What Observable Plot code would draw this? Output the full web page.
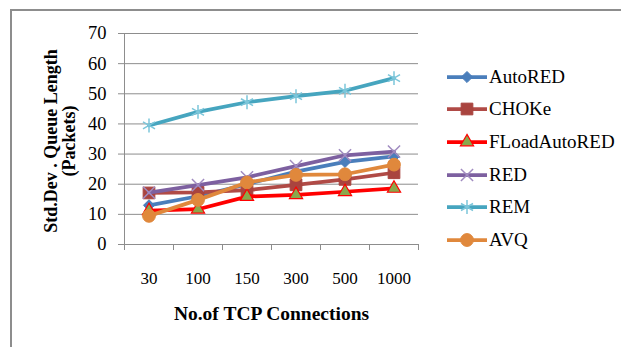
<!DOCTYPE html>
<html>
<head>
<meta charset="utf-8">
<script src="https://cdn.jsdelivr.net/npm/d3@7"></script>
<script src="https://cdn.jsdelivr.net/npm/@observablehq/plot@0.6"></script>
<style>
  html, body { margin: 0; padding: 0; background: #fff; overflow: hidden; }
  #wrap { position: relative; width: 621px; height: 347px; font-family: "Liberation Serif", "Times New Roman", serif; }
  #frame { position: absolute; left: 10px; top: 9px; width: 700px; height: 400px;
           border-top: 2px solid #8d8d8d; border-left: 2px solid #8d8d8d; }
  #chart { position: absolute; left: 0; top: 0; }
  #legend { position: absolute; left: 447px; top: 60.5px; }
  .row { display: flex; align-items: center; height: 32.6px; font-size: 19px; color: #000; }
  .row svg { display: block; margin-right: 2px; }
</style>
</head>
<body>
<div id="wrap">
  <div id="frame"></div>
  <div id="chart"></div>
  <div id="legend"></div>
</div>
<script>
// Number of TCP connections (category axis)
const connections = ["30", "100", "150", "300", "500", "1000"];

// Std. dev. of queue length (packets) per queue management scheme
const autoRED      = [13.0, 16.0, 20.0, 24.2, 27.4, 29.2];
const choke        = [17.1, 17.3, 18.0, 19.8, 21.6, 23.8];
const floadAutoRED = [11.2, 11.7, 15.9, 16.5, 17.5, 18.6];
const red          = [17.2, 19.7, 22.3, 26.0, 29.6, 30.8];
const rem          = [39.5, 44.0, 47.2, 49.2, 51.0, 55.2];
const avq          = [9.5, 14.8, 20.6, 23.1, 23.3, 26.5];

const seriesNames = ["AutoRED", "CHOKe", "FLoadAutoRED", "RED", "REM", "AVQ"];
const seriesValues = [autoRED, choke, floadAutoRED, red, rem, avq];

// Value axis ticks and titles
const yTicks = [0, 10, 20, 30, 40, 50, 60, 70];
const xTitle = "No.of TCP Connections";
const yTitle = "Std.Dev . Queue Length\n(Packets)";

// Line and marker styling per series
const styles = [
  {line: "#4a7ebb", symbol: "diamond2", r: 5,   fill: "#4a7ebb", stroke: "#4a7ebb", sw: 1},
  {line: "#b04a46", symbol: "square",   r: 6.6, fill: "#a9443f", stroke: "#a9443f", sw: 1},
  {line: "#ff0000", symbol: "triangle", r: 4.9, fill: "#8aa84b", stroke: "#ff0000", sw: 1.2},
  {line: "#7d60a0", symbol: "times",    r: 5.6, fill: "none",    stroke: "#a08bc0", sw: 1.5},
  {line: "#46a5bf", symbol: "asterisk", r: 6.6, fill: "none",    stroke: "#7cc6da", sw: 1.5},
  {line: "#e0883c", symbol: "circle",   r: 6.4, fill: "#e0883c", stroke: "#e0883c", sw: 1}
];

const grid = "#8d8d8d";
const pos = (d, i) => i + 0.5;

const marks = [
  Plot.ruleY(yTicks.filter(v => v > 0), {stroke: grid, strokeWidth: 1}),
  Plot.ruleY([0], {stroke: grid, strokeWidth: 1}),
  Plot.ruleX([0], {stroke: grid, strokeWidth: 1}),
  Plot.axisY({ticks: yTicks, tickSize: 6, tickPadding: 12, fontSize: 18.5, stroke: grid, fill: "#000", label: null}),
  Plot.axisX({ticks: d3.range(connections.length + 1), tickSize: 6, tickFormat: () => "", stroke: grid, label: null}),
  Plot.axisX({ticks: connections.map((_, i) => i + 0.5), tickSize: 0, tickPadding: 27, fontSize: 17,
              tickFormat: d => connections[Math.floor(d)], fill: "#000", label: null}),
  Plot.text([xTitle], {frameAnchor: "bottom", dy: 69, fontSize: 19.5, fontWeight: "bold", lineAnchor: "middle"}),
  Plot.text([yTitle], {frameAnchor: "left", dx: -64, dy: 2, rotate: -90, fontSize: 18, fontWeight: "bold",
                       textAnchor: "middle", lineAnchor: "middle", lineHeight: 0.95})
];

seriesValues.forEach((vals, k) => {
  const s = styles[k];
  marks.push(Plot.line(vals, {x: pos, y: d => d, stroke: s.line, strokeWidth: 3.75, curve: "linear"}));
  marks.push(Plot.dot(vals, {x: pos, y: d => d, symbol: () => s.symbol, r: s.r,
                             fill: s.fill, stroke: s.stroke, strokeWidth: s.sw}));
});

const chart = Plot.plot({
  width: 621,
  height: 347,
  marginLeft: 124,
  marginRight: 203,
  marginTop: 33,
  marginBottom: 103,
  x: {type: "linear", domain: [0, connections.length], axis: null},
  y: {domain: [0, 70], axis: null},
  symbol: {type: "identity"},
  style: {fontFamily: "'Liberation Serif', 'Times New Roman', serif", background: "transparent", color: "#000"},
  marks
});
document.getElementById("chart").appendChild(chart);

// Legend: line sample with the series marker, then the series name
const symbolTypes = {diamond2: d3.symbolDiamond2, square: d3.symbolSquare, triangle: d3.symbolTriangle,
                     times: d3.symbolTimes, asterisk: d3.symbolAsterisk, circle: d3.symbolCircle};
const legend = d3.select("#legend");
seriesNames.forEach((name, k) => {
  const s = styles[k];
  const row = legend.append("div").attr("class", "row");
  const svg = row.append("svg").attr("width", 40).attr("height", 20);
  svg.append("line").attr("x1", 0).attr("x2", 40).attr("y1", 10).attr("y2", 10)
     .attr("stroke", s.line).attr("stroke-width", 3.75);
  svg.append("path")
     .attr("transform", "translate(20,10)")
     .attr("d", d3.symbol(symbolTypes[s.symbol], Math.PI * s.r * s.r)())
     .attr("fill", s.fill).attr("stroke", s.stroke).attr("stroke-width", s.sw);
  row.append("span").text(name);
});
</script>
</body>
</html>
